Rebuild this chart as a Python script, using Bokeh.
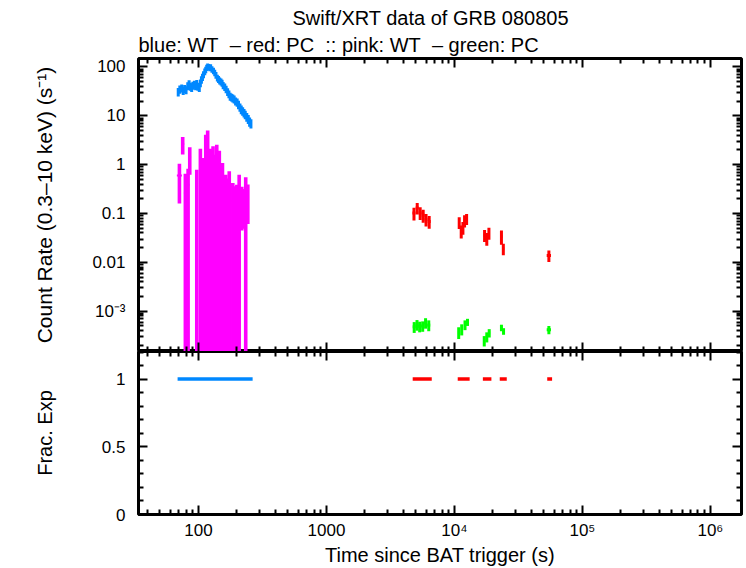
import numpy as np
from bokeh.plotting import figure
from bokeh.layouts import column
from bokeh.models import (Range1d, LogAxis, LinearAxis, FixedTicker, Title,
                          ColumnDataSource)
from bokeh.embed import file_html
from bokeh.resources import INLINE

FONT = "Liberation Sans"
FS = "17px"
FS_LAB = "20px"
FS_YLAB = "21px"
FS_TITLE = "20px"
NB = "\u00a0"

# ---------------- data ----------------
# Blue: WT count rate
blue_t = [69.5, 71.5, 74, 76, 78, 80, 82.5, 84.5, 86.5, 88.5, 90.5, 93,
          95, 97, 99, 101.5, 103.5, 105.5, 107.5, 109.5, 112, 114, 116, 118,
          120.5, 122.5, 124.5, 127.5, 131, 134, 137, 140.5, 143.5, 146.5, 150, 153,
          156, 160.5, 164.5, 169, 173, 177, 181.5, 185.5, 190, 195, 200.5, 205.5,
          211, 216, 221.5, 227, 232, 238.5, 245, 251, 257]
blue_rate = [31, 35, 37, 33, 36, 34, 41, 45, 40, 38, 42, 44,
             41, 46, 40, 38, 47, 55, 62, 70, 80, 88, 97, 103,
             100, 96, 99, 90, 84, 76, 68, 60, 56, 52, 50, 47,
             42, 39, 35, 31, 28, 25, 24, 23, 22, 20, 19, 17,
             15, 13.5, 12.5, 11.5, 10.6, 9.5, 8.6, 7.6, 7.0]
blue_err = [6.0, 6.6, 7.0, 6.3, 6.8, 6.5, 7.6, 8.2, 7.5, 7.2, 7.8, 8.1,
            7.6, 8.4, 7.4, 7.1, 8.5, 9.6, 10.5, 11.5, 12.6, 13.5, 14.5, 15.2,
            14.8, 14.3, 14.6, 13.5, 12.8, 11.8, 10.7, 9.6, 9.0, 8.5, 8.2, 7.8,
            7.1, 6.7, 6.1, 5.5, 5.0, 4.6, 4.4, 4.3, 4.1, 3.8, 3.6, 3.3,
            2.9, 2.7, 2.5, 2.3, 2.1, 1.95, 1.8, 1.6, 1.5]

# Pink: WT (second series)
pink_t = [71, 75.3, 79, 83, 85.5, 97, 103.5, 108.5, 114, 118, 124.5, 130, 134,
          139, 145.5, 154, 163.5, 168.5, 174, 185.5, 192, 199.5, 208, 218, 224, 234, 243]
pink_rate = [0.60, 2.64, 0.26, 0.39, 1.44, 0.37, 0.9, 0.55, 1.8, 2.2, 0.9, 1.0, 0.7,
             1.1, 0.8, 0.45, 0.27, 0.22, 0.31, 0.18, 0.15, 0.17, 0.30, 0.20, 0.184, 0.25, 0.226]
pink_err = [0.44, 1.03, 0.39, 0.44, 0.82, 0.42, 1.22, 0.82, 2.3, 2.8, 1.22, 1.37, 0.9,
            1.46, 1.13, 0.63, 0.355, 0.30, 0.42, 0.24, 0.21, 0.22, 0.32, 0.155, 0.135, 0.30, 0.165]
pink_dt = [3.2, 2.0, 2.0, 2.0, 2.0, 2.2, 2.3, 2.4, 2.5, 2.6, 2.7, 2.8, 2.9,
           3.0, 3.1, 3.3, 3.5, 3.6, 3.7, 4.0, 4.1, 4.3, 4.5, 4.7, 4.8, 5.0, 5.2]

# Red: PC count rate
red_t = [4830, 5120, 5400, 5700, 6000, 6350,
         10900, 11300, 11650, 12000, 12450,
         17200, 17900, 18600, 23300, 24100, 54700]
red_rate = [0.102, 0.130, 0.104, 0.092, 0.076, 0.069,
            0.066, 0.044, 0.052, 0.072, 0.078,
            0.036, 0.031, 0.040, 0.034, 0.019, 0.0139]
red_err = [0.030, 0.035, 0.030, 0.027, 0.022, 0.020,
           0.018, 0.013, 0.015, 0.020, 0.020,
           0.010, 0.009, 0.011, 0.011, 0.005, 0.0037]
red_dt = [130, 140, 140, 150, 150, 170,
          150, 150, 150, 170, 170,
          300, 300, 300, 400, 400, 2100]

# Green: PC (second series)
green_t = [4850, 5100, 5350, 5650, 5950, 6300,
           10800, 11400, 12100, 12650,
           17100, 17900, 18700, 23300, 24200, 54700]
green_rate = [4.8e-4, 5.3e-4, 4.9e-4, 5.0e-4, 5.8e-4, 5.2e-4,
              3.7e-4, 4.3e-4, 5.3e-4, 6.0e-4,
              2.5e-4, 3.0e-4, 3.6e-4, 4.6e-4, 3.9e-4, 4.2e-4]
green_err = [1.2e-4, 1.3e-4, 1.2e-4, 1.2e-4, 1.4e-4, 1.3e-4,
             1.0e-4, 1.1e-4, 1.2e-4, 1.0e-4,
             0.6e-4, 0.7e-4, 0.7e-4, 0.7e-4, 0.6e-4, 0.8e-4]
green_dt = [130, 140, 140, 150, 150, 170,
            150, 150, 170, 170,
            300, 300, 300, 400, 400, 2100]

# Fractional exposure
fe_wt_start = [68.7]
fe_wt_stop = [265]
fe_wt_val = [1.0]
fe_pc_start = [4720, 10610, 16680, 22600, 53100]
fe_pc_stop = [6650, 13150, 19450, 25640, 57950]
fe_pc_val = [1.0, 1.0, 1.0, 1.0, 1.0]

# ticks
x_major = [100, 1000, 1e4, 1e5, 1e6]
x_labels = ["100", "1000", "10\u2074", "10\u2075", "10\u2076"]
y_major = [1e-3, 0.01, 0.1, 1, 10, 100]
y_labels = ["10\u207b\u00b3", "0.01", "0.1", "1", "10", "100"]
fe_major = [0.0, 0.5, 1.0]
fe_labels = ["0", "0.5", "1"]
fe_minor = [0.1, 0.2, 0.3, 0.4, 0.6, 0.7, 0.8, 0.9, 1.1, 1.2]

X_RANGE = (34, 1.75e6)
Y_RANGE = (1.5e-4, 149)
FE_RANGE = (0, 1.204)

BLUE = "#0088ff"
PINK = "#ff00ff"
RED = "#ff0000"
GREEN = "#00ff00"

x_minor = [m * 10.0 ** k for k in range(1, 7) for m in range(2, 10)
           if X_RANGE[0] < m * 10.0 ** k < X_RANGE[1]]
y_minor = [m * 10.0 ** k for k in range(-4, 3) for m in range(2, 10)
           if Y_RANGE[0] < m * 10.0 ** k < Y_RANGE[1]]


def style_axis(ax, labels=True, lab_size=FS_LAB):
    ax.major_tick_in = 9
    ax.major_tick_out = 0
    ax.minor_tick_in = 5
    ax.minor_tick_out = 0
    ax.major_tick_line_width = 2
    ax.minor_tick_line_width = 2
    ax.major_tick_line_color = "black"
    ax.minor_tick_line_color = "black"
    ax.axis_line_color = None
    ax.major_label_text_font = FONT
    ax.major_label_text_font_size = FS
    ax.major_label_text_color = "black" if labels else None
    ax.axis_label_text_font = FONT
    ax.axis_label_text_font_size = lab_size
    ax.axis_label_text_font_style = "normal"
    ax.axis_label_text_color = "black"


def errbars(p, t, tlo, thi, y, ylo, yhi, color, vw, hw):
    src = ColumnDataSource(dict(t=t, tlo=tlo, thi=thi, y=y, ylo=ylo, yhi=yhi))
    p.segment(x0="t", y0="ylo", x1="t", y1="yhi", source=src,
              line_color=color, line_width=vw)
    p.segment(x0="tlo", y0="y", x1="thi", y1="y", source=src,
              line_color=color, line_width=hw)


# ---------------- top panel ----------------
top = figure(width=746, height=351, x_axis_type="log", y_axis_type="log",
             x_range=Range1d(*X_RANGE), y_range=Range1d(*Y_RANGE),
             x_axis_location=None, y_axis_location=None,
             output_backend="svg", toolbar_location=None,
             min_border_left=138, min_border_right=5, min_border_top=58,
             min_border_bottom=0)
top.title = None
top.grid.visible = False
top.outline_line_color = "black"
top.outline_line_width = 3
top.background_fill_color = "white"
top.border_fill_color = "white"

subtitle = ("blue: WT" + NB + NB + "\u2013 red: PC" + NB + NB + ":: pink: WT"
            + NB + NB + "\u2013 green: PC")
# titles (first added sits closest to the frame)
top.add_layout(Title(text=subtitle, align="left", offset=0, standoff=5,
                     text_font=FONT, text_font_size=FS_TITLE,
                     text_font_style="normal", text_color="black"), "above")
top.add_layout(Title(text="Swift/XRT data of GRB 080805", align="left", offset=154,
                     standoff=1, text_font=FONT, text_font_size=FS_TITLE,
                     text_font_style="normal", text_color="black"), "above")

xt = FixedTicker(ticks=x_major, minor_ticks=x_minor)
yt = FixedTicker(ticks=y_major, minor_ticks=y_minor)

yl = LogAxis(ticker=yt, axis_label="Count Rate (0.3\u201310 keV) (s\u207b\u00b9)",
             major_label_overrides={float(v): s for v, s in zip(y_major, y_labels)})
style_axis(yl, lab_size=FS_YLAB)
yl.major_label_standoff = 13
yl.axis_label_standoff = 33
top.add_layout(yl, "left")

yr = LogAxis(ticker=yt, fixed_location=X_RANGE[1])
style_axis(yr, labels=False)
top.add_layout(yr, "right")

xa = LogAxis(ticker=xt, fixed_location=Y_RANGE[1])
style_axis(xa, labels=False)
top.add_layout(xa, "above")

xb = LogAxis(ticker=xt, fixed_location=Y_RANGE[0])
style_axis(xb, labels=False)
top.add_layout(xb, "below")

# blue
bt = np.array(blue_t, dtype=float)
edges = np.sqrt(bt[1:] * bt[:-1])
b_lo = np.concatenate([[bt[0] ** 2 / edges[0]], edges])
b_hi = np.concatenate([edges, [bt[-1] ** 2 / edges[-1]]])
br = np.array(blue_rate)
be = np.array(blue_err)
errbars(top, bt, b_lo, b_hi, br, br - be, br + be, BLUE, 3, 3)

# pink
pt = np.array(pink_t, dtype=float)
pr = np.array(pink_rate)
pe = np.array(pink_err)
pdt = np.array(pink_dt)
p_lo = np.where(pr - pe > 0, pr - pe, 1e-7)
errbars(top, pt, pt - pdt, pt + pdt, pr, p_lo, pr + pe, PINK, 3.6, 2)

# red
rt = np.array(red_t, dtype=float)
rr = np.array(red_rate)
re = np.array(red_err)
rdt = np.array(red_dt)
errbars(top, rt, rt - rdt, rt + rdt, rr, rr - re, rr + re, RED, 3, 3)

# green
gt = np.array(green_t, dtype=float)
gr = np.array(green_rate)
ge = np.array(green_err)
gdt = np.array(green_dt)
errbars(top, gt, gt - gdt, gt + gdt, gr, gr - ge, gr + ge, GREEN, 3, 3)

# ---------------- bottom panel ----------------
bot = figure(width=746, height=217, x_axis_type="log",
             x_range=top.x_range, y_range=Range1d(*FE_RANGE),
             x_axis_location=None, y_axis_location=None,
             output_backend="svg", toolbar_location=None,
             min_border_left=138, min_border_right=5, min_border_top=0,
             min_border_bottom=51)
bot.grid.visible = False
bot.outline_line_color = "black"
bot.outline_line_width = 3
bot.background_fill_color = "white"
bot.border_fill_color = "white"

ft = FixedTicker(ticks=fe_major, minor_ticks=fe_minor)
fl = LinearAxis(ticker=ft, axis_label="Frac. Exp",
                major_label_overrides={float(v): s for v, s in zip(fe_major, fe_labels)})
style_axis(fl)
fl.major_label_standoff = 13
fl.axis_label_standoff = 43
bot.add_layout(fl, "left")

fr = LinearAxis(ticker=ft, fixed_location=X_RANGE[1])
style_axis(fr, labels=False)
bot.add_layout(fr, "right")

bx = LogAxis(ticker=xt, axis_label="Time since BAT trigger (s)",
             major_label_overrides={float(v): s for v, s in zip(x_major, x_labels)})
style_axis(bx)
bx.major_label_standoff = 6
bx.axis_label_standoff = 1
bot.add_layout(bx, "below")

ba = LogAxis(ticker=xt, fixed_location=FE_RANGE[1])
style_axis(ba, labels=False)
bot.add_layout(ba, "above")

bot.segment(x0=fe_wt_start, y0=fe_wt_val, x1=fe_wt_stop, y1=fe_wt_val,
            line_color=BLUE, line_width=3.5)
bot.segment(x0=fe_pc_start, y0=fe_pc_val, x1=fe_pc_stop, y1=fe_pc_val,
            line_color=RED, line_width=3.5)

layout = column(top, bot, spacing=0)
open("out.html", "w").write(file_html(layout, INLINE))
